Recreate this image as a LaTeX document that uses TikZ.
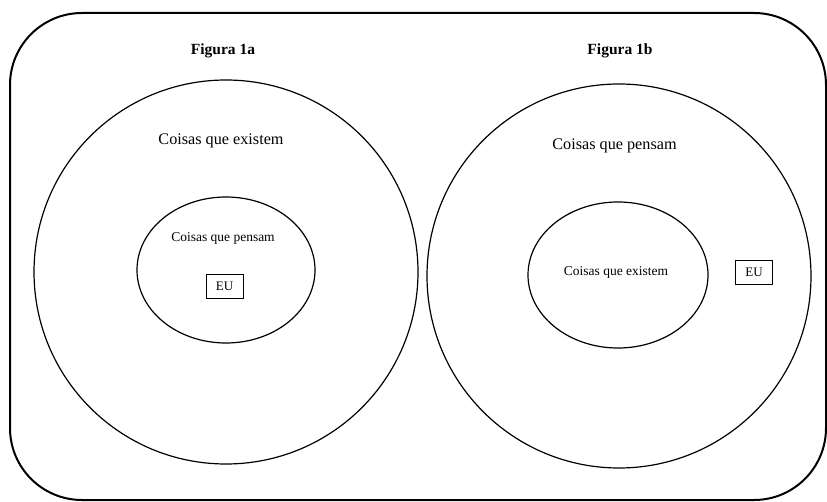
\documentclass[tikz,border=0pt]{standalone}
\usepackage{fontspec}
\setmainfont{Liberation Serif}
\usetikzlibrary{shapes.geometric}
\begin{document}
\begin{tikzpicture}[x=1pt,y=-1pt,
  ring/.style={draw=black,line width=1.2pt},
  eubox/.style={draw=black,line width=0.9pt,minimum width=37pt,minimum height=24pt,inner sep=0pt,font=\fontsize{13}{15}\selectfont},
  title/.style={font=\bfseries\fontsize{15.5}{18}\selectfont},
  biglabel/.style={font=\fontsize{16.2}{19}\selectfont},
  smalllabel/.style={font=\fontsize{13.5}{16}\selectfont}]
\useasboundingbox (0,0) rectangle (827,502);
\draw[line width=2pt,rounded corners=72pt] (10,13) rectangle (826,500);
\node[title] (ta) at (223,51) {Figura 1a};
\node[title] (tb) at (620,51) {Figura 1b};
\node[ring,circle,minimum size=384pt,inner sep=0pt] (ca) at (226,272) {};
\node[ring,circle,minimum size=384pt,inner sep=0pt] (cb) at (619,276) {};
\node[ring,ellipse,minimum width=178pt,minimum height=146pt,inner sep=0pt] (ea) at (226,270) {};
\node[ring,ellipse,minimum width=180pt,minimum height=146pt,inner sep=0pt] (eb) at (618,275) {};
\node[biglabel] (la) at (221,141) {Coisas que existem};
\node[biglabel] (lb) at (614.5,146) {Coisas que pensam};
\node[smalllabel] (sa) at (223,238) {Coisas que pensam};
\node[smalllabel] (sb) at (616,272) {Coisas que existem};
\node[eubox] (eua) at (224.5,286) {EU};
\node[eubox] (eub) at (754,272.5) {EU};
\end{tikzpicture}
\end{document}
